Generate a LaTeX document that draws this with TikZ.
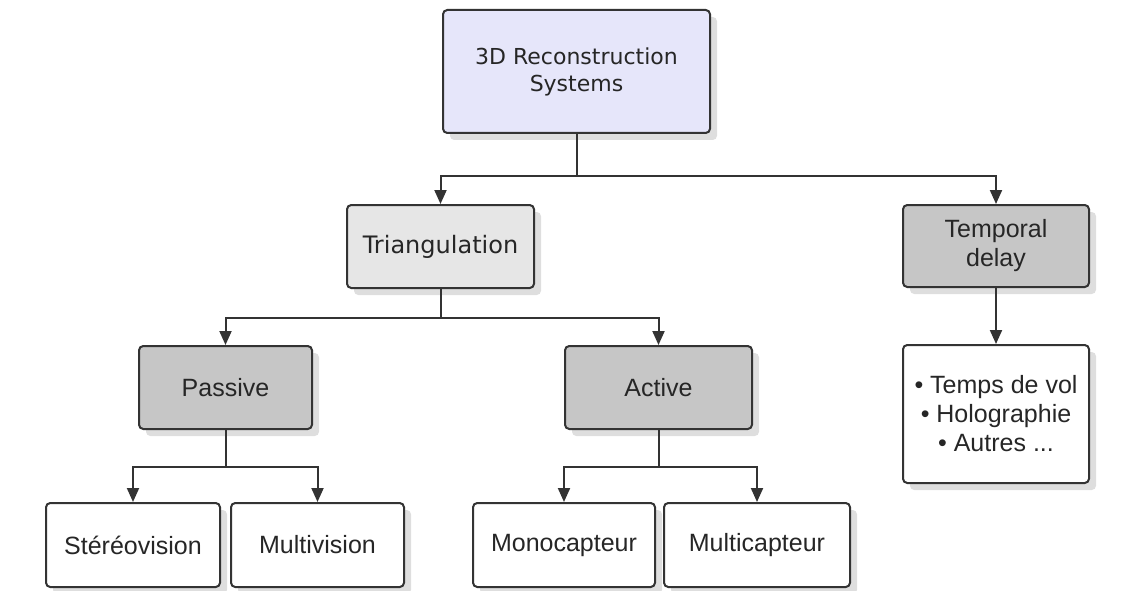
\documentclass[tikz,border=0pt]{standalone}
\usepackage{xcolor}
\usepackage{fontspec}
\setmainfont{Liberation Sans}
\newfontfamily\widefont{DejaVu Sans}
\usepackage{tikz}
\usetikzlibrary{arrows.meta,shadows}
\definecolor{rootfill}{HTML}{E6E6FA}
\definecolor{lightfill}{HTML}{E6E6E6}
\definecolor{darkfill}{HTML}{C6C6C6}
\definecolor{edgegray}{HTML}{333333}
\tikzset{
  box/.style={draw=edgegray, line width=2pt, rounded corners=1.5mm, fill=white, text=black!85, align=center,
    font=\fontsize{25}{29}\selectfont,
    drop shadow={shadow xshift=7pt, shadow yshift=-7pt, fill=black!13, opacity=1}},
  rootbox/.style={box, fill=rootfill, font=\widefont\fontsize{22}{27}\selectfont},
  midbox/.style={box, fill=lightfill, font=\widefont\fontsize{24}{28}\selectfont},
  greybox/.style={box, fill=darkfill},
  link/.style={draw=edgegray, line width=2pt},
  arrow/.style={link, -{Triangle[length=14pt,width=12pt]}},
}

\begin{document}
\begin{tikzpicture}[x=1pt,y=-1pt]
  \useasboundingbox (0,0) rectangle (1135,591);
  % Top
  \node[rootbox, minimum width=267pt, minimum height=123pt] (root) at (576.5,71.5) {3D Reconstruction\\Systems};
  % Second level
  \node[midbox, minimum width=187pt, minimum height=83pt] (tri) at (440.5,246.5) {Triangulation};
  \node[greybox, minimum width=186pt, minimum height=82pt] (temp) at (996,246) {Temporal\\delay};
  % Third level
  \node[greybox, minimum width=173pt, minimum height=83pt] (pas) at (225.5,387.5) {Passive};
  \node[greybox, minimum width=187pt, minimum height=83pt] (act) at (658.5,387.5) {Active};
  \node[box, minimum width=186pt, minimum height=138pt] (list) at (996,414) {\textbullet\ Temps de vol\\\textbullet\ Holographie\\\textbullet\ Autres ...};
  % Leaves
  \node[box, minimum width=174pt, minimum height=84pt] (ster) at (133,545) {Stéréovision};
  \node[box, minimum width=173pt, minimum height=84pt] (multiv) at (317.5,545) {Multivision};
  \node[box, minimum width=182pt, minimum height=84pt] (mono) at (564,545) {Monocapteur};
  \node[box, minimum width=186pt, minimum height=84pt] (multic) at (757,545) {Multicapteur};
  % Bus points
  \coordinate (b1) at (root.south|-0,176);
  \coordinate (b2) at (tri.south|-0,318);
  \coordinate (b3) at (pas.south|-0,467);
  \coordinate (b4) at (act.south|-0,467);
  % Connectors
  \draw[link] (root.south) -- (b1);
  \draw[arrow] (b1) -| (tri.north);
  \draw[arrow] (b1) -| (temp.north);
  \draw[link] (tri.south) -- (b2);
  \draw[arrow] (b2) -| (pas.north);
  \draw[arrow] (b2) -| (act.north);
  \draw[arrow] (temp.south) -- (list.north);
  \draw[link] (pas.south) -- (b3);
  \draw[arrow] (b3) -| (ster.north);
  \draw[arrow] (b3) -| (multiv.north);
  \draw[link] (act.south) -- (b4);
  \draw[arrow] (b4) -| (mono.north);
  \draw[arrow] (b4) -| (multic.north);
\end{tikzpicture}
\end{document}
